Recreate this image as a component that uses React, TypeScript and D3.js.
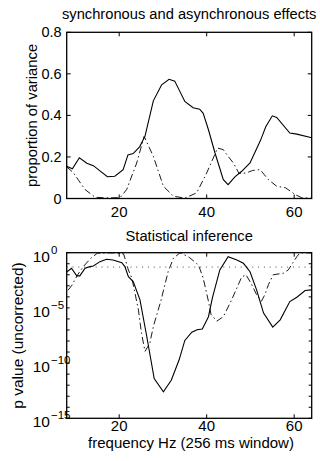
import React from 'react';
import * as d3 from 'd3';

// ---------- data ----------
const freqDomain: [number, number] = [8, 64];
const freqTicks = [20, 40, 60];
const varianceDomain: [number, number] = [0, 0.8];
const varianceTicks = [0, 0.2, 0.4, 0.6, 0.8];
const varianceTickLabels = ['0', '0.2', '0.4', '0.6', '0.8'];
const pDomain: [number, number] = [1e-15, 1];
const pDecadeTicks = [1e-15, 1e-14, 1e-13, 1e-12, 1e-11, 1e-10, 1e-9, 1e-8, 1e-7, 1e-6, 1e-5, 1e-4, 1e-3, 1e-2, 1e-1, 1];
const pLabelTicks = [1, 1e-5, 1e-10, 1e-15];
const pLabelExponents = ['0', '\u22125', '\u221210', '\u221215'];
const pThreshold = 0.05;

// synchronous effect (solid)
const syncFreq = [8.0, 9.3, 10.9, 12.6, 14.1, 15.6, 17.3, 19.0, 20.9, 22.0, 23.2, 24.7, 25.9, 27.8, 29.7, 31.4, 32.7, 35.0, 36.9, 38.4, 39.2, 40.4, 41.9, 43.8, 44.9, 46.5, 48.0, 49.9, 52.3, 53.5, 55.0, 56.0, 59.0, 60.6, 64.0];
const syncVariance = [0.155, 0.143, 0.196, 0.17, 0.158, 0.133, 0.105, 0.107, 0.139, 0.21, 0.216, 0.25, 0.3, 0.47, 0.547, 0.574, 0.565, 0.467, 0.437, 0.43, 0.41, 0.331, 0.219, 0.091, 0.067, 0.105, 0.131, 0.171, 0.28, 0.345, 0.398, 0.39, 0.315, 0.31, 0.292];

// asynchronous effect (dash-dot)
const asyncFreq = [8.0, 9.5, 10.8, 12.2, 14.5, 17.0, 20.2, 21.7, 24.0, 25.7, 27.8, 30.1, 32.4, 35.0, 37.7, 40.0, 42.5, 43.8, 44.6, 46.1, 47.4, 49.1, 50.5, 52.2, 54.1, 56.0, 58.0, 60.2, 61.7, 64.0];
const asyncVariance = [0.152, 0.125, 0.085, 0.043, 0.006, 0.003, 0.004, 0.043, 0.171, 0.299, 0.203, 0.059, 0.011, 0.002, 0.027, 0.123, 0.243, 0.235, 0.211, 0.171, 0.12, 0.123, 0.135, 0.139, 0.091, 0.059, 0.052, 0.019, 0.004, 0.001];

// p values, stored as log10(p)
const syncPFreq = [8.0, 9.1, 10.3, 11.0, 12.2, 13.3, 14.1, 15.6, 17.1, 18.6, 20.6, 21.3, 22.1, 23.2, 24.75, 26.3, 28.0, 30.1, 31.9, 33.7, 35.0, 36.6, 37.8, 39.0, 40.4, 41.3, 43.0, 44.9, 46.9, 48.4, 49.9, 51.4, 53.0, 55.1, 56.8, 59.0, 60.6, 62.5, 64.0];
const syncLog10P = [-1.75, -1.41, -2.1, -2.1, -1.41, -1.26, -1.2, -0.81, -0.6, -0.66, -0.9, -1.26, -2.17, -2.62, -4.27, -7.59, -11.4, -12.6, -11.55, -9.7, -7.95, -7.2, -6.98, -6.92, -5.8, -4.1, -1.56, -0.36, -0.66, -0.96, -1.72, -3.37, -5.47, -6.74, -6.08, -4.43, -4.03, -3.43, -3.37];

const asyncPFreq = [8.3, 9.1, 10.5, 11.8, 13.5, 15.0, 17.0, 19.0, 21.0, 22.1, 22.9, 24.4, 25.1, 25.9, 27.0, 27.8, 28.9, 29.5, 31.2, 32.4, 33.9, 35.8, 38.1, 39.2, 40.4, 41.0, 42.3, 43.8, 45.7, 48.0, 49.0, 50.3, 51.4, 52.5, 53.3, 54.1, 55.2, 57.5, 58.65, 60.6, 61.3, 64.0];
const asyncLog10P = [-3.4, -3.0, -2.0, -1.26, -0.5, -0.05, -0.02, -0.02, -0.1, -1.56, -2.3, -5.2, -7.3, -8.94, -8.2, -6.7, -5.2, -4.4, -1.7, -0.5, -0.01, -0.36, -1.1, -2.3, -4.4, -5.6, -6.2, -5.8, -4.27, -2.2, -2.0, -2.9, -3.8, -4.4, -3.8, -2.9, -2.0, -1.86, -1.56, -0.36, -0.02, -0.01];

// ---------- layout ----------
const W = 320;
const H = 461;
const LEFT = 66.7;
const RIGHT = 311.7;
const TOP1 = 32.3;
const BOT1 = 198.5;
const TOP2 = 252.7;
const BOT2 = 418.3;
const FONT = '"Liberation Sans", Arial, Helvetica, sans-serif';
const TICK = 4;

const x = d3.scaleLinear().domain(freqDomain).range([LEFT, RIGHT]);
const yVar = d3.scaleLinear().domain(varianceDomain).range([BOT1, TOP1]);
const yP = d3.scaleLog().domain(pDomain).range([BOT2, TOP2]);

type Pt = [number, number];
const zip = (a: number[], b: number[]): Pt[] => a.map((v, i) => [v, b[i]]);

const lineVar = d3
  .line<Pt>()
  .x((d) => x(d[0]))
  .y((d) => yVar(d[1]));
const lineP = d3
  .line<Pt>()
  .x((d) => x(d[0]))
  .y((d) => yP(Math.pow(10, d[1])));

const DASHDOT = '7,3,1.5,3';

function Box({ top, bottom }: { top: number; bottom: number }) {
  return (
    <rect x={LEFT} y={top} width={RIGHT - LEFT} height={bottom - top} fill="none" stroke="#000" strokeWidth={1.3} />
  );
}

function XTicks({ top, bottom, labelY }: { top: number; bottom: number; labelY: number }) {
  return (
    <g>
      {freqTicks.map((t) => (
        <g key={t}>
          <line x1={x(t)} x2={x(t)} y1={bottom} y2={bottom - TICK} stroke="#000" strokeWidth={1} />
          <line x1={x(t)} x2={x(t)} y1={top} y2={top + TICK} stroke="#000" strokeWidth={1} />
          <text x={x(t)} y={labelY} textAnchor="middle" fontSize={15} fontFamily={FONT}>
            {t}
          </text>
        </g>
      ))}
    </g>
  );
}

export default function App() {
  const syncPts = zip(syncFreq, syncVariance);
  const asyncPts = zip(asyncFreq, asyncVariance);
  const syncPPts = zip(syncPFreq, syncLog10P);
  const asyncPPts = zip(asyncPFreq, asyncLog10P);
  const cx = (LEFT + RIGHT) / 2;

  return (
    <svg
      width={W}
      height={H}
      viewBox={`0 0 ${W} ${H}`}
      style={{ position: 'absolute', left: 0, top: 0, background: '#fff' }}
    >
      <rect x={0} y={0} width={W} height={H} fill="#fff" />
      <defs>
        <clipPath id="clip1">
          <rect x={LEFT} y={TOP1} width={RIGHT - LEFT} height={BOT1 - TOP1} />
        </clipPath>
        <clipPath id="clip2">
          <rect x={LEFT} y={TOP2 - 1} width={RIGHT - LEFT} height={BOT2 - TOP2 + 1} />
        </clipPath>
      </defs>

      {/* ---------- top panel ---------- */}
      <text x={cx} y={18.5} textAnchor="middle" fontSize={14.7} fontFamily={FONT}>
        synchronous and asynchronous effects
      </text>
      <g clipPath="url(#clip1)">
        <path d={lineVar(asyncPts) || ''} fill="none" stroke="#000" strokeWidth={0.9} strokeDasharray={DASHDOT} />
        <path d={lineVar(syncPts) || ''} fill="none" stroke="#000" strokeWidth={1.1} />
      </g>
      {varianceTicks.map((t, i) => (
        <g key={t}>
          <line x1={LEFT} x2={LEFT + TICK} y1={yVar(t)} y2={yVar(t)} stroke="#000" strokeWidth={1} />
          <line x1={RIGHT} x2={RIGHT - TICK} y1={yVar(t)} y2={yVar(t)} stroke="#000" strokeWidth={1} />
          <text x={61.7} y={yVar(t) + 5} textAnchor="end" fontSize={14.5} fontFamily={FONT}>
            {varianceTickLabels[i]}
          </text>
        </g>
      ))}
      <XTicks top={TOP1} bottom={BOT1} labelY={216.5} />
      <Box top={TOP1} bottom={BOT1} />
      <text
        transform={`translate(37.3, ${(TOP1 + BOT1) / 2}) rotate(-90)`}
        textAnchor="middle"
        fontSize={14.8}
        fontFamily={FONT}
      >
        proportion of variance
      </text>

      {/* ---------- bottom panel ---------- */}
      <text x={cx} y={241} textAnchor="middle" fontSize={14.7} fontFamily={FONT}>
        Statistical inference
      </text>
      <line
        x1={x(freqDomain[0])}
        x2={x(freqDomain[1])}
        y1={yP(pThreshold)}
        y2={yP(pThreshold)}
        stroke="#000"
        strokeWidth={1}
        strokeDasharray="1,4.8"
        opacity={0.7}
      />
      <g clipPath="url(#clip2)">
        <path d={lineP(asyncPPts) || ''} fill="none" stroke="#000" strokeWidth={0.9} strokeDasharray={DASHDOT} />
        <path d={lineP(syncPPts) || ''} fill="none" stroke="#000" strokeWidth={1.1} />
      </g>
      {pDecadeTicks.map((t) => (
        <g key={t}>
          <line x1={LEFT} x2={LEFT + 3} y1={yP(t)} y2={yP(t)} stroke="#000" strokeWidth={1} />
          <line x1={RIGHT} x2={RIGHT - 3} y1={yP(t)} y2={yP(t)} stroke="#000" strokeWidth={1} />
        </g>
      ))}
      {pLabelTicks.map((t, i) => (
        <g key={t}>
          <text x={50} y={yP(t) + 9} textAnchor="end" fontSize={15.5} fontFamily={FONT}>
            10
          </text>
          <text x={51} y={yP(t) + 0.8} textAnchor="start" fontSize={11.5} fontFamily={FONT}>
            {pLabelExponents[i]}
          </text>
        </g>
      ))}
      <XTicks top={TOP2} bottom={BOT2} labelY={430.5} />
      <Box top={TOP2} bottom={BOT2} />
      <text
        transform={`translate(23.3, ${(TOP2 + BOT2) / 2}) rotate(-90)`}
        textAnchor="middle"
        fontSize={15.5}
        fontFamily={FONT}
      >
        p value (uncorrected)
      </text>
      <text x={191} y={448} textAnchor="middle" fontSize={15} fontFamily={FONT}>
        frequency Hz (256 ms window)
      </text>
    </svg>
  );
}
